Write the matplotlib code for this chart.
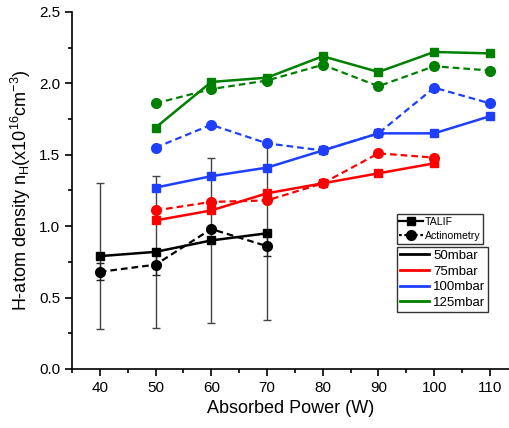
import matplotlib
matplotlib.use("Agg")
import matplotlib.pyplot as plt
from matplotlib.lines import Line2D
from matplotlib.ticker import MultipleLocator

plt.rcParams['font.family'] = ['Liberation Sans', 'DejaVu Sans']
plt.rcParams['mathtext.fontset'] = 'custom'
plt.rcParams['mathtext.rm'] = 'Liberation Sans'
plt.rcParams['mathtext.it'] = 'Liberation Sans:italic'

# Data
power_50 = [40, 50, 60, 70]
talif_50 = [0.79, 0.82, 0.90, 0.95]
talif_50_err = [0.51, 0.53, 0.58, 0.61]
act_50 = [0.68, 0.73, 0.98, 0.86]
act_50_err = [0.06, 0.07, 0.0, 0.07]

power_75 = [50, 60, 70, 80, 90, 100]
talif_75 = [1.04, 1.11, 1.23, 1.30, 1.37, 1.44]
act_75 = [1.11, 1.17, 1.18, 1.30, 1.51, 1.48]

power_100 = [50, 60, 70, 80, 90, 100, 110]
talif_100 = [1.27, 1.35, 1.41, 1.53, 1.65, 1.65, 1.77]
act_100 = [1.55, 1.71, 1.58, 1.53, 1.65, 1.97, 1.86]

power_125 = [50, 60, 70, 80, 90, 100, 110]
talif_125 = [1.69, 2.01, 2.04, 2.19, 2.08, 2.22, 2.21]
act_125 = [1.86, 1.96, 2.02, 2.13, 1.98, 2.12, 2.09]

pressures = ['50mbar', '75mbar', '100mbar', '125mbar']
colors = ['#000000', '#ff0000', '#1f3fff', '#008000']

fig = plt.figure(figsize=(5.1, 4.28), dpi=100)
ax = fig.add_axes([0.141, 0.138, 0.859, 0.834])

series = [
    (power_50, talif_50, act_50),
    (power_75, talif_75, act_75),
    (power_100, talif_100, act_100),
    (power_125, talif_125, act_125),
]

# error bars for 50 mbar
ax.errorbar(power_50, talif_50, yerr=talif_50_err, fmt='none', ecolor='#444444',
            elinewidth=1.0, capsize=3, capthick=1.0, zorder=1)
ax.errorbar(power_50, act_50, yerr=act_50_err, fmt='none', ecolor='#222222',
            elinewidth=1.0, capsize=3, capthick=1.0, zorder=1)

for (p, t, a), c in zip(series, colors):
    ax.plot(p, a, color=c, linestyle=(0, (3, 1.8)), linewidth=1.6, marker='o',
            markersize=7, zorder=3)
    ax.plot(p, t, color=c, linestyle='-', linewidth=1.8, marker='s',
            markersize=6, zorder=4)

ax.set_xlim(35, 113.6)
ax.set_ylim(0, 2.5)
ax.xaxis.set_major_locator(MultipleLocator(10))
ax.xaxis.set_minor_locator(MultipleLocator(5))
ax.yaxis.set_major_locator(MultipleLocator(0.5))
ax.yaxis.set_minor_locator(MultipleLocator(0.25))
ax.yaxis.set_major_formatter(matplotlib.ticker.FormatStrFormatter('%.1f'))
ax.tick_params(which='major', direction='out', length=5, width=1.2, labelsize=11)
ax.tick_params(which='minor', direction='out', length=3, width=1.2)
for s in ['top', 'right']:
    ax.spines[s].set_visible(False)
for s in ['left', 'bottom']:
    ax.spines[s].set_linewidth(1.2)

ax.set_xlabel('Absorbed Power (W)', fontsize=13)
ax.set_ylabel(r'H-atom density n$_\mathregular{H}$(x10$^\mathregular{16}$cm$^\mathregular{-3}$)', fontsize=13)

h1 = [Line2D([], [], color='k', linestyle='-', marker='s', markersize=6, linewidth=1.6),
      Line2D([], [], color='k', linestyle=(0, (1.2, 1.2)), marker='o', markersize=7, linewidth=1.6)]
leg1 = ax.legend(h1, ['TALIF', 'Actinometry'], loc='upper left',
                 bbox_to_anchor=(0.778, 0.5), bbox_transform=fig.transFigure,
                 fontsize=7.6, frameon=True, fancybox=False, handlelength=2.2,
                 handletextpad=0.2, borderpad=0.25, labelspacing=0.4, borderaxespad=0)
leg1.get_frame().set_edgecolor('black')
leg1.get_frame().set_linewidth(1.0)
ax.add_artist(leg1)

h2 = [Line2D([], [], color=c, linewidth=2) for c in colors]
leg2 = ax.legend(h2, pressures, loc='upper left',
                 bbox_to_anchor=(0.778, 0.424), bbox_transform=fig.transFigure,
                 fontsize=9.5, frameon=True, fancybox=False, handlelength=2.2,
                 handletextpad=0.3, borderpad=0.25, labelspacing=0.25, borderaxespad=0)
leg2.get_frame().set_edgecolor('black')
leg2.get_frame().set_linewidth(1.0)

fig.savefig('out.png', dpi=100)
